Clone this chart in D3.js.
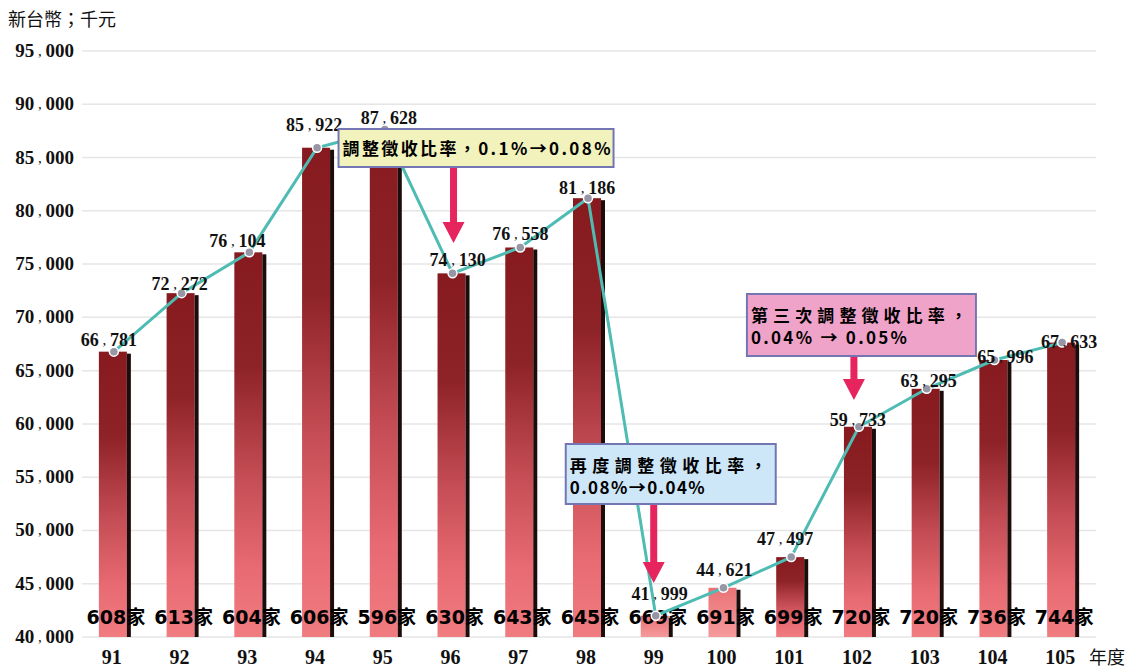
<!DOCTYPE html>
<html lang="zh-TW">
<head>
<meta charset="utf-8" />
<script src="https://cdn.jsdelivr.net/npm/d3@7/dist/d3.min.js"></script>
<style>
  body { margin: 0; background: #fff; }
  svg { display: block; }
  .grid line { stroke: #e6e6e6; stroke-width: 1.5px; }
  .serif { font-family: "Liberation Serif", "Times New Roman", serif; font-weight: bold; fill: #111; }
  .cjk { font-family: "Noto Sans CJK TC", sans-serif; fill: #111; }
  .count { font-family: "DejaVu Sans", "Noto Sans CJK TC", sans-serif; font-weight: bold; font-size: 19px; fill: #000; }
  .note { font-family: "Noto Sans CJK TC", sans-serif; font-weight: bold; font-size: 17px; fill: #000; }
</style>
</head>
<body>
<div id="chart"></div>
<script>
// Data
var years = ["91", "92", "93", "94", "95", "96", "97", "98", "99", "100", "101", "102", "103", "104", "105"]
var amounts = [66781, 72272, 76104, 85922, 87628, 74130, 76558, 81186, 41999, 44621, 47497, 59733, 63295, 65996, 67633]
var companies = [608, 613, 604, 606, 596, 630, 643, 645, 669, 691, 699, 720, 720, 736, 744]
var yTicks = [40000, 45000, 50000, 55000, 60000, 65000, 70000, 75000, 80000, 85000, 90000, 95000]
var pinkYears = ["99", "100"]

var notes = [
  { year: "96", lines: ["調整徵收比率，0.1%→0.08%"] },
  { year: "99", lines: ["再度調整徵收比率，", "0.08%→0.04%"] },
  { year: "102", lines: ["第三次調整徵收比率，", "0.04% → 0.05%"] }
]

var W = 1128, H = 669

var svg = d3.select("#chart").append("svg")
  .attr("width", W)
  .attr("height", H)

var defs = svg.append("defs")
var gDark = defs.append("linearGradient").attr("id", "barDark")
  .attr("x1", 0).attr("y1", 0).attr("x2", 0).attr("y2", 1)
gDark.append("stop").attr("offset", "0%").attr("stop-color", "#861a1f")
gDark.append("stop").attr("offset", "30%").attr("stop-color", "#8e2327")
gDark.append("stop").attr("offset", "58%").attr("stop-color", "#c44c54")
gDark.append("stop").attr("offset", "82%").attr("stop-color", "#e86a72")
gDark.append("stop").attr("offset", "100%").attr("stop-color", "#f07c80")

var gPink = defs.append("linearGradient").attr("id", "barPink")
  .attr("x1", 0).attr("y1", 0).attr("x2", 0).attr("y2", 1)
gPink.append("stop").attr("offset", "0%").attr("stop-color", "#ea7276")
gPink.append("stop").attr("offset", "100%").attr("stop-color", "#f59a9c")

// Scales
var x = d3.scaleBand().domain(years).range([80, 1096]).padding(0)
var y = d3.scaleLinear().domain([40000, 95000]).range([637, 51])
function cx(d) { return x(d) + x.bandwidth() / 2 }

function splitNum(g, v) {
  var s = d3.format(",")(v).split(",")
  g.text(null)
  g.append("tspan").text(s[0])
  g.append("tspan").attr("font-size", "15px").attr("font-weight", "normal").attr("dy", -1).text(" , ")
  g.append("tspan").attr("dy", 1).text(s[1])
}

// Grid
svg.append("g").attr("class", "grid")
  .selectAll("line").data(yTicks).join("line")
  .attr("x1", 82).attr("x2", 1096)
  .attr("y1", function(d) { return y(d) })
  .attr("y2", function(d) { return y(d) })

// Y tick labels
svg.append("g").selectAll("text").data(yTicks).join("text")
  .attr("class", "serif")
  .attr("font-size", "19px")
  .attr("text-anchor", "end")
  .attr("x", 74)
  .attr("y", function(d) { return y(d) + 6 })
  .each(function(d) { splitNum(d3.select(this), d) })

// X labels
svg.append("g").selectAll("text").data(years).join("text")
  .attr("class", "serif")
  .attr("font-size", "20px")
  .attr("text-anchor", "middle")
  .attr("x", function(d) { return cx(d) - 2 })
  .attr("y", 664)
  .text(function(d) { return d })

svg.append("text").attr("class", "cjk")
  .attr("font-size", "18px")
  .attr("x", 1089).attr("y", 664)
  .text("年度")

svg.append("text").attr("class", "cjk")
  .attr("font-size", "18px")
  .attr("x", 8).attr("y", 26)
  .text("新台幣；千元")

// Bars
var barW = 28, edgeW = 4
var bars = svg.append("g").selectAll("g").data(years).join("g")
bars.append("rect")
  .attr("x", function(d) { return cx(d) - barW / 2 - 1 })
  .attr("y", function(d, i) { return y(amounts[i]) })
  .attr("width", barW)
  .attr("height", function(d, i) { return y(40000) - y(amounts[i]) })
  .attr("fill", function(d) { return pinkYears.indexOf(d) >= 0 ? "url(#barPink)" : "url(#barDark)" })
bars.append("rect")
  .attr("x", function(d) { return cx(d) + barW / 2 - 1 })
  .attr("y", function(d, i) { return y(amounts[i]) + 2 })
  .attr("width", edgeW)
  .attr("height", function(d, i) { return y(40000) - y(amounts[i]) - 2 })
  .attr("fill", "#1c0c0c")

// Count labels
svg.append("g").selectAll("text").data(years).join("text")
  .attr("class", "count")
  .attr("text-anchor", "middle")
  .attr("x", function(d) { return cx(d) + 2 })
  .attr("y", 624)
  .text(function(d, i) { return companies[i] + "家" })

// Line
var line = d3.line()
  .x(function(d) { return cx(d) })
  .y(function(d, i) { return y(amounts[i]) })
svg.append("path")
  .datum(years)
  .attr("d", line)
  .attr("fill", "none")
  .attr("stroke", "#4fbcb4")
  .attr("stroke-width", 3)

svg.append("g").selectAll("circle").data(years).join("circle")
  .attr("cx", function(d) { return cx(d) })
  .attr("cy", function(d, i) { return y(amounts[i]) })
  .attr("r", 4.5)
  .attr("fill", "#9696a4")
  .attr("stroke", "#fff")
  .attr("stroke-width", 1.5)

// Value labels (small placement nudges, as in the original layout)
var nudge = {
  "91": [-5, -6], "92": [-2, -3], "93": [-12, -5], "94": [-3, -17], "95": [4, -6],
  "96": [5, -7], "97": [0, -7], "98": [-1, -4], "99": [4, -16], "100": [1, -12],
  "101": [-6, -12], "102": [-1, -1], "103": [2, -2], "104": [11, 3], "105": [7, 5]
}
svg.append("g").selectAll("text").data(years).join("text")
  .attr("class", "serif")
  .attr("font-size", "18px")
  .attr("text-anchor", "middle")
  .attr("x", function(d) { return cx(d) + nudge[d][0] })
  .attr("y", function(d, i) { return y(amounts[i]) + nudge[d][1] })
  .each(function(d, i) { splitNum(d3.select(this), amounts[i]) })

// Annotation boxes with arrows
var noteLayout = [
  { left: -114, top: 129, w: 275, h: 38, fill: "#f2f2bd", lens: [268], ax: 1, tip: 243 },
  { left: -90, top: 444, w: 210, h: 60, fill: "#cde6f8", lens: [197, 135], ax: -2, tip: 583 },
  { left: -112, top: 294, w: 229, h: 62, fill: "#f0a3c9", lens: [216, 156], ax: -5, tip: 400 }
]

notes.forEach(function(n, k) {
  var L = noteLayout[k]
  var c = cx(n.year)
  var g = svg.append("g")
  g.append("rect")
    .attr("x", c + L.left).attr("y", L.top)
    .attr("width", L.w).attr("height", L.h)
    .attr("fill", L.fill)
    .attr("stroke", "#7476b4")
    .attr("stroke-width", 2)
  var txt = g.append("text").attr("class", "note")
  n.lines.forEach(function(t, j) {
    txt.append("tspan")
      .attr("x", c + L.left + 4)
      .attr("y", L.top + (n.lines.length === 1 ? 26 : 28 + j * 22))
      .attr("textLength", L.lens[j])
      .attr("lengthAdjust", "spacing")
      .text(t)
  })
  var a = c + L.ax, top = L.top + L.h + 1, tip = L.tip, head = 21
  g.append("path")
    .attr("d", "M" + (a - 3.5) + "," + top +
      "L" + (a + 3.5) + "," + top +
      "L" + (a + 3.5) + "," + (tip - head) +
      "L" + (a + 11) + "," + (tip - head) +
      "L" + a + "," + tip +
      "L" + (a - 11) + "," + (tip - head) +
      "L" + (a - 3.5) + "," + (tip - head) + "Z")
    .attr("fill", "#e6245e")
})
</script>
</body>
</html>
